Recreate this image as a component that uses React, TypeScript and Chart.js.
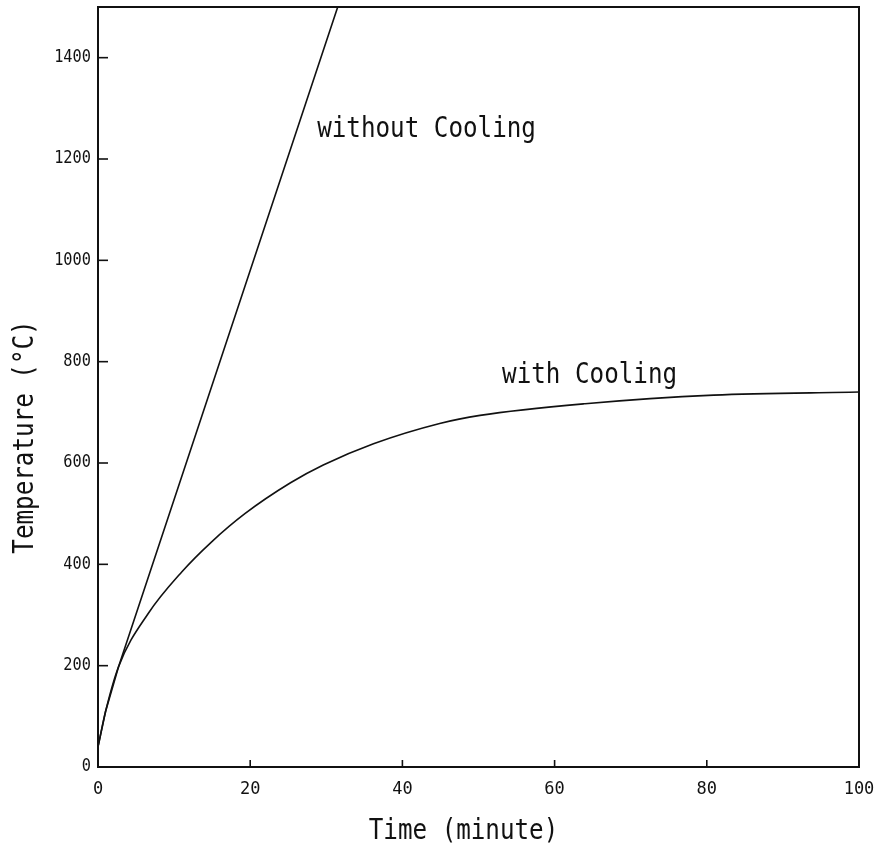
import React, { useEffect, useRef } from "react";
import { Chart, registerables } from "chart.js";

Chart.register(...registerables);

// Data
const timeWithoutCooling = [0, 1, 2.7, 31.5];
const tempWithoutCooling = [40, 110, 198, 1500];

const timeWithCooling = [0, 1, 2.7, 6.6, 11, 14.9, 19.3, 25.3, 29.6, 36.2, 44.9, 50.2, 64, 80.9, 100];
const tempWithCooling = [40, 110, 198, 303, 385, 444, 500, 561, 596, 638, 678, 694, 717, 734, 740];

const xTickValues = [0, 20, 40, 60, 80, 100];
const yTickValues = [0, 200, 400, 600, 800, 1000, 1200, 1400];

const xTitle = "Time (minute)";
const yTitle = "Temperature (°C)";
const labelWithout = { text: "without Cooling", t: 28.8, T: 1243 };
const labelWith = { text: "with Cooling", t: 53.1, T: 757 };

const FONT = '"DejaVu Sans Mono", "Liberation Mono", monospace';

function drawText(
  ctx: CanvasRenderingContext2D,
  text: string,
  x: number,
  y: number,
  size: number,
  align: CanvasTextAlign,
  baseline: CanvasTextBaseline,
  sx: number,
  rot = 0
) {
  ctx.save();
  ctx.translate(x, y);
  if (rot) ctx.rotate(rot);
  ctx.scale(sx, 1);
  ctx.font = `${size}px ${FONT}`;
  ctx.fillStyle = "#111";
  ctx.textAlign = align;
  ctx.textBaseline = baseline;
  ctx.fillText(text, 0, 0);
  ctx.restore();
}

const framePlugin = {
  id: "framePlugin",
  afterDraw(chart: any) {
    const ctx: CanvasRenderingContext2D = chart.ctx;
    const { left, right, top, bottom } = chart.chartArea;
    const xs = chart.scales.x;
    const ys = chart.scales.y;
    ctx.save();
    ctx.strokeStyle = "#111";
    ctx.lineWidth = 2;
    ctx.strokeRect(left, top, right - left, bottom - top);
    ctx.lineWidth = 1.6;
    // x ticks (inward)
    xTickValues.forEach((v) => {
      const px = xs.getPixelForValue(v);
      ctx.beginPath();
      ctx.moveTo(px, bottom);
      ctx.lineTo(px, bottom - 7);
      ctx.stroke();
      drawText(ctx, String(v), px, bottom + 23, 17, "center", "middle", 1.0);
    });
    // y ticks (inward)
    yTickValues.forEach((v) => {
      const py = ys.getPixelForValue(v);
      ctx.beginPath();
      ctx.moveTo(left, py);
      ctx.lineTo(left + 10, py);
      ctx.stroke();
      drawText(ctx, String(v), left - 7, py, 17, "right", "middle", 0.9);
    });
    // axis titles
    drawText(ctx, xTitle, (left + right) / 2 - 15, bottom + 72, 28, "center", "alphabetic", 0.865);
    drawText(ctx, yTitle, 33, (top + bottom) / 2 + 50, 28, "center", "alphabetic", 0.865, -Math.PI / 2);
    // curve labels
    drawText(ctx, labelWithout.text, xs.getPixelForValue(labelWithout.t), ys.getPixelForValue(labelWithout.T), 28, "left", "alphabetic", 0.865);
    drawText(ctx, labelWith.text, xs.getPixelForValue(labelWith.t), ys.getPixelForValue(labelWith.T), 28, "left", "alphabetic", 0.865);
    ctx.restore();
  },
};

export default function App() {
  const canvasRef = useRef<HTMLCanvasElement | null>(null);

  useEffect(() => {
    if (!canvasRef.current) return;
    const chart = new Chart(canvasRef.current, {
      type: "scatter",
      data: {
        datasets: [
          {
            label: "without Cooling",
            data: timeWithoutCooling.map((t, i) => ({ x: t, y: tempWithoutCooling[i] })),
            showLine: true,
            borderColor: "#111",
            borderWidth: 1.6,
            pointRadius: 0,
            tension: 0,
          },
          {
            label: "with Cooling",
            data: timeWithCooling.map((t, i) => ({ x: t, y: tempWithCooling[i] })),
            showLine: true,
            borderColor: "#111",
            borderWidth: 1.6,
            pointRadius: 0,
            cubicInterpolationMode: "monotone",
          },
        ],
      },
      options: {
        responsive: false,
        animation: false,
        devicePixelRatio: 1,
        layout: { padding: { top: 7, right: 26, left: 0, bottom: 0 } },
        plugins: { legend: { display: false }, tooltip: { enabled: false } },
        scales: {
          x: {
            type: "linear",
            min: 0,
            max: 100,
            grid: { display: false },
            border: { display: false },
            ticks: { display: false, stepSize: 20 },
            afterFit: (s: any) => {
              s.height = 86;
            },
          },
          y: {
            type: "linear",
            min: 0,
            max: 1500,
            grid: { display: false },
            border: { display: false },
            ticks: { display: false, stepSize: 200 },
            afterFit: (s: any) => {
              s.width = 98;
            },
          },
        },
      },
      plugins: [framePlugin],
    });
    return () => chart.destroy();
  }, []);

  return (
    <div style={{ position: "fixed", left: 0, top: 0, width: 885, height: 853, background: "#fff" }}>
      <canvas ref={canvasRef} width={885} height={853} />
    </div>
  );
}
